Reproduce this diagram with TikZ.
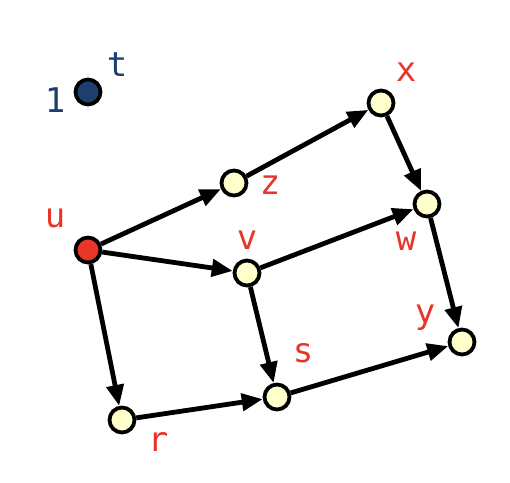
\documentclass[tikz,border=0pt]{standalone}
\usepackage{fontspec}
\setmainfont{DejaVu Sans Mono}
\usetikzlibrary{arrows.meta}
\definecolor{lblred}{HTML}{E8352A}
\definecolor{nodered}{HTML}{E8352A}
\definecolor{nodeyel}{HTML}{FFFFCC}
\definecolor{darkblue}{HTML}{1C3F6E}
\tikzset{
  vtx/.style={circle, draw=black, line width=3.8pt, fill=nodeyel, minimum size=25pt, inner sep=0pt},
  srcvtx/.style={vtx, fill=nodered},
  bluevtx/.style={vtx, fill=darkblue},
  lbl/.style={inner sep=0pt, text=lblred, font=\fontsize{34}{36}\selectfont},
  bluelbl/.style={lbl, text=darkblue},
  edge/.style={line width=4.8pt, -{Triangle[length=21pt,width=17pt]}, shorten >=0pt}
}
\begin{document}
\begin{tikzpicture}[x=1pt,y=-1pt]
\useasboundingbox (0,0) rectangle (510,482);
\node[bluevtx] (t) at (88,92) {};
\node[srcvtx] (u) at (88,250) {};
\node[vtx] (z) at (234,183) {};
\node[vtx] (x) at (381,103) {};
\node[vtx] (w) at (427,204) {};
\node[vtx] (v) at (247,273) {};
\node[vtx] (y) at (462,342) {};
\node[vtx] (s) at (277,397) {};
\node[vtx] (r) at (122,420) {};

\node[bluelbl] (l1) at (55,100) {1};
\node[bluelbl] (lt) at (117,65) {t};
\node[lbl] (lu) at (55,218) {u};
\node[lbl] (lz) at (270,185) {z};
\node[lbl] (lx) at (406,72) {x};
\node[lbl] (lv) at (247,240) {v};
\node[lbl] (lw) at (406,241) {w};
\node[lbl] (ly) at (425,318) {y};
\node[lbl] (ls) at (303,353) {s};
\node[lbl] (lr) at (158,442) {r};

\draw[edge] (u) -- (z);
\draw[edge] (u) -- (v);
\draw[edge] (u) -- (r);
\draw[edge] (z) -- (x);
\draw[edge] (x) -- (w);
\draw[edge] (v) -- (w);
\draw[edge] (v) -- (s);
\draw[edge] (w) -- (y);
\draw[edge] (r) -- (s);
\draw[edge] (s) -- (y);
\end{tikzpicture}
\end{document}
